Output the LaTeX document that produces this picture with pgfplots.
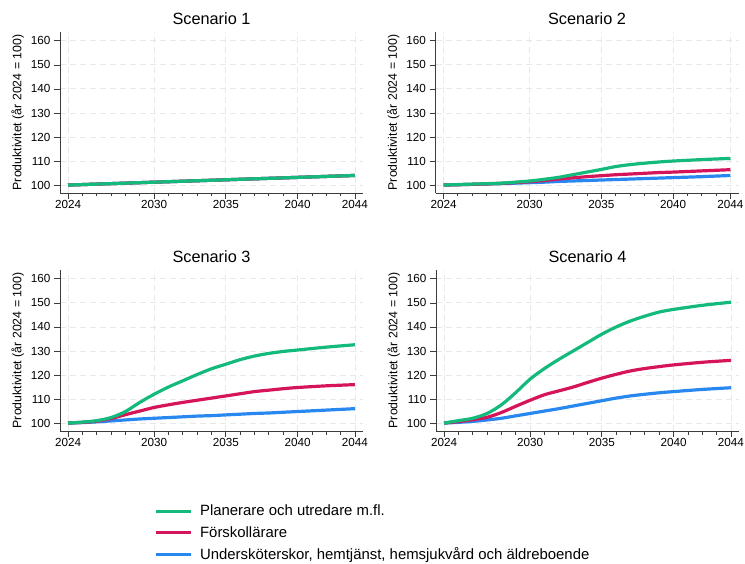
\documentclass[border=0pt]{standalone}
\usepackage{pgfplots}
\pgfplotsset{compat=1.18}
\usepackage{pgfplotstable}
\usepackage{fontspec}
\setmainfont{Liberation Sans}
\definecolor{cgreen}{RGB}{20,186,124}
\definecolor{cred}{RGB}{214,20,90}
\definecolor{cblue}{RGB}{40,136,240}
\definecolor{gridc}{RGB}{232,232,232}
\definecolor{axc}{RGB}{60,60,60}

\pgfplotstableread{
year g r b
2024 100 100 100
2029 101 101 101
2034 102 102 102
2039 103 103 103
2044 104 104 104
}\sone
\pgfplotstableread{
year g r b
2024 100 100 100
2026 100.4 100.3 100.3
2028 100.8 100.7 100.6
2030 101.7 101.4 101.0
2031 102.4 101.9 101.2
2032 103.2 102.5 101.5
2033 104.3 103.0 101.7
2034 105.4 103.5 101.9
2035 106.5 103.9 102.1
2036 107.7 104.3 102.3
2037 108.5 104.6 102.5
2038 109.1 104.9 102.7
2039 109.6 105.2 102.9
2040 110.0 105.4 103.1
2042 110.6 105.9 103.5
2044 111.1 106.4 104.0
}\stwo
\pgfplotstableread{
year g r b
2024 100 100 100
2025 100.4 100.3 100.2
2026 101 100.8 100.5
2027 102.3 101.9 100.9
2028 104.8 103.5 101.3
2029 108.6 105.0 101.7
2030 112 106.5 102.0
2031 115 107.6 102.3
2032 117.6 108.6 102.6
2033 120.2 109.5 102.9
2034 122.6 110.4 103.1
2035 124.5 111.3 103.4
2036 126.4 112.2 103.7
2037 127.9 113.1 104.0
2038 129.0 113.7 104.2
2039 129.8 114.3 104.5
2040 130.4 114.8 104.8
2042 131.6 115.5 105.4
2044 132.6 116.0 106.0
}\sthree
\pgfplotstableread{
year g r b
2024 100 100 100
2025 101 100.6 100.3
2026 102 101.4 100.7
2027 104 102.4 101.3
2028 107.6 104.4 102.0
2029 112.7 107 103.0
2030 118.3 109.5 104.0
2031 122.7 111.8 105.0
2032 126.5 113.4 106.0
2033 130 115 107.1
2034 133.5 116.9 108.2
2035 137 118.7 109.3
2036 140 120.3 110.4
2037 142.5 121.7 111.3
2038 144.5 122.7 112.0
2039 146.2 123.5 112.6
2040 147.3 124.2 113.1
2042 149 125.3 114.0
2044 150.3 126.1 114.7
}\sfour

\pgfplotsset{
  panel/.style={
    scale only axis, width=303pt, height=161pt,
    anchor=south west,
    xmin=2023.44, xmax=2044.56, ymin=96.7, ymax=163.7,
    axis x line*=bottom, axis y line*=left,
    axis line style={axc, line width=0.8pt, -},
    xtick={2024,2030,2035,2040,2044},
    minor xtick={2025,...,2043},
    ytick={100,110,...,160},
    tick align=outside,
    major tick length=6pt, minor tick length=3.5pt,
    every tick/.style={axc, line width=0.8pt},
    grid=major,
    major grid style={gridc, line width=0.9pt, dash pattern=on 6pt off 4pt},
    /pgf/number format/assume math mode=true,
    /pgf/number format/1000 sep={},
    tick label style={font=\fontsize{11.7}{13}\selectfont, text=black},
    xticklabel style={yshift=2pt},
    ylabel={Produktivitet (år 2024 = 100)},
    ylabel style={at={(axis description cs:-0.14,0.5)}, anchor=center, font=\fontsize{12.3}{13}\selectfont},
    title style={font=\fontsize{16.3}{18}\selectfont, yshift=-2pt},
    every axis plot/.append style={line width=3.2pt, smooth},
  }
}

\begin{document}
\begin{tikzpicture}
\path[use as bounding box] (0,0) rectangle (745pt,563pt);

\begin{axis}[panel, at={(60pt,370pt)}, title={Scenario 1}]
\addplot[cblue] table[x=year,y=b] {\sone};
\addplot[cred] table[x=year,y=r] {\sone};
\addplot[cgreen] table[x=year,y=g] {\sone};
\end{axis}

\begin{axis}[panel, at={(435.5pt,370pt)}, title={Scenario 2}]
\addplot[cblue] table[x=year,y=b] {\stwo};
\addplot[cred] table[x=year,y=r] {\stwo};
\addplot[cgreen] table[x=year,y=g] {\stwo};
\end{axis}

\begin{axis}[panel, at={(60pt,132pt)}, title={Scenario 3},
  legend style={at={(axis description cs:0.31,-0.45)}, anchor=north west,
    draw=none, fill=none, inner sep=0pt, row sep=6pt,
    font=\fontsize{14.9}{16}\selectfont,
    nodes={inner sep=1.5pt},
    /tikz/every odd column/.append style={column sep=6pt}},
  legend cell align=left,
  legend image code/.code={\draw[#1, line width=3.5pt] (0pt,0pt) -- (35pt,0pt);}]
\addplot[cblue, forget plot] table[x=year,y=b] {\sthree};
\addplot[cred, forget plot] table[x=year,y=r] {\sthree};
\addplot[cgreen, forget plot] table[x=year,y=g] {\sthree};
\addlegendimage{cgreen}
\addlegendentry{Planerare och utredare m.fl.}
\addlegendimage{cred}
\addlegendentry{Förskollärare}
\addlegendimage{cblue}
\addlegendentry{Undersköterskor, hemtjänst, hemsjukvård och äldreboende}
\end{axis}

\begin{axis}[panel, at={(436pt,132pt)}, title={Scenario 4}]
\addplot[cblue] table[x=year,y=b] {\sfour};
\addplot[cred] table[x=year,y=r] {\sfour};
\addplot[cgreen] table[x=year,y=g] {\sfour};
\end{axis}
\end{tikzpicture}
\end{document}
